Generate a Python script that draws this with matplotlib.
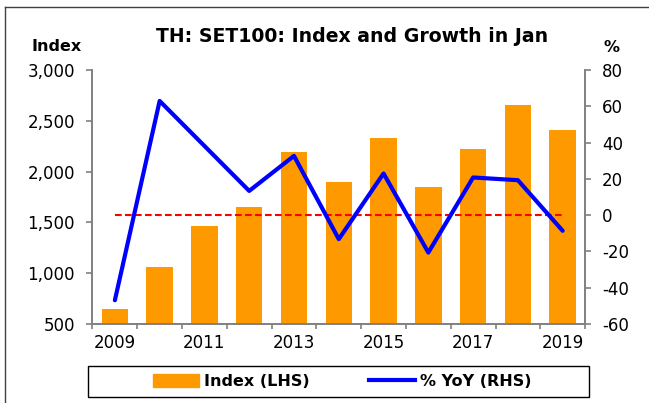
import matplotlib.pyplot as plt
from matplotlib.lines import Line2D
from matplotlib.patches import Rectangle
import numpy as np

plt.rcParams["font.family"] = ["DejaVu Sans"]

years = [2009, 2010, 2011, 2012, 2013, 2014, 2015, 2016, 2017, 2018, 2019]
index_lhs = [648, 1058, 1465, 1652, 2196, 1898, 2334, 1845, 2222, 2652, 2412]
yoy_rhs = [-46.9, 63.0, 38.2, 13.4, 32.7, -13.2, 23.0, -20.6, 20.8, 19.3, -8.6]
left_ticks = [500, 1000, 1500, 2000, 2500, 3000]
right_ticks = [-60, -40, -20, 0, 20, 40, 60, 80]

orange = "#ff9900"
blue = "#0000ff"
spine_grey = "#808080"

fig = plt.figure(figsize=(6.49, 4.03), dpi=100)
ax = fig.add_axes([0.1425, 0.196, 0.759, 0.630])
ax2 = ax.twinx()

x = np.arange(len(years))
ax.bar(x, index_lhs, width=0.59, color=orange, zorder=2)
ax2.plot(x, yoy_rhs, color=blue, lw=3.0, solid_capstyle="round", zorder=3)
ax2.plot([x[0], x[-1]], [0, 0], color="#ff0000", lw=1.5, ls=(0, (3.2, 1.6)), zorder=2)

ax.set_xlim(-0.5, len(years) - 0.5)
ax.set_ylim(500, 3000)
ax2.set_ylim(-60, 80)
ax.set_yticks(left_ticks)
ax.set_yticklabels([f"{v:,}" for v in left_ticks], fontsize=12)
ax2.set_yticks(right_ticks)
ax2.set_yticklabels([str(v) for v in right_ticks], fontsize=12)

ax.set_xticks(x[::2])
ax.set_xticklabels([str(y) for y in years[::2]], fontsize=12)
ax.set_xticks(np.arange(-0.5, len(years)), minor=True)
ax.tick_params(axis="x", which="major", length=0, pad=7)
ax.tick_params(axis="x", which="minor", length=3.6, color=spine_grey, width=1.2)
ax.tick_params(axis="y", length=4.3, color=spine_grey, width=1.2, pad=8.3)
ax2.tick_params(axis="y", length=4.3, color=spine_grey, width=1.2, pad=7.9)

for a in (ax, ax2):
    a.spines["top"].set_visible(False)
    for s in ("left", "right", "bottom"):
        a.spines[s].set_color(spine_grey)
        a.spines[s].set_linewidth(1.2)

fig.text(0.5424, 0.8965, "TH: SET100: Index and Growth in Jan", ha="center", va="baseline",
         fontsize=13.6, fontweight="bold")
fig.text(0.0878, 0.8734, "Index", ha="center", va="baseline", fontsize=11.5, fontweight="bold")
fig.text(0.9425, 0.872, "%", ha="center", va="baseline", fontsize=11.5, fontweight="bold")

# legend box drawn separately so its padding matches the reference
fig.add_artist(Rectangle((0.1356, 0.0149), 0.772, 0.0769, transform=fig.transFigure,
                         facecolor="white", edgecolor="black", lw=1.0))
handles = [
    Rectangle((0, 0), 1, 1, color=orange),
    Line2D([0], [0], color=blue, lw=3.0),
]
fig.legend(handles, ["Index (LHS)", "% YoY (RHS)"], loc="center",
           bbox_to_anchor=(0.527, 0.0533), ncol=2, frameon=False,
           prop={"weight": "bold", "size": 11.5}, handlelength=2.9, handleheight=0.8,
           columnspacing=3.7, handletextpad=0.3, borderpad=0.0)

# outer frame lines on top and left
fig.add_artist(Line2D([0.0077, 1.0], [0.9826, 0.9826], color="#404040", lw=1.0))
fig.add_artist(Line2D([0.0077, 0.0077], [0.0, 0.9826], color="#404040", lw=1.0))

plt.savefig("out.png", dpi=100)
